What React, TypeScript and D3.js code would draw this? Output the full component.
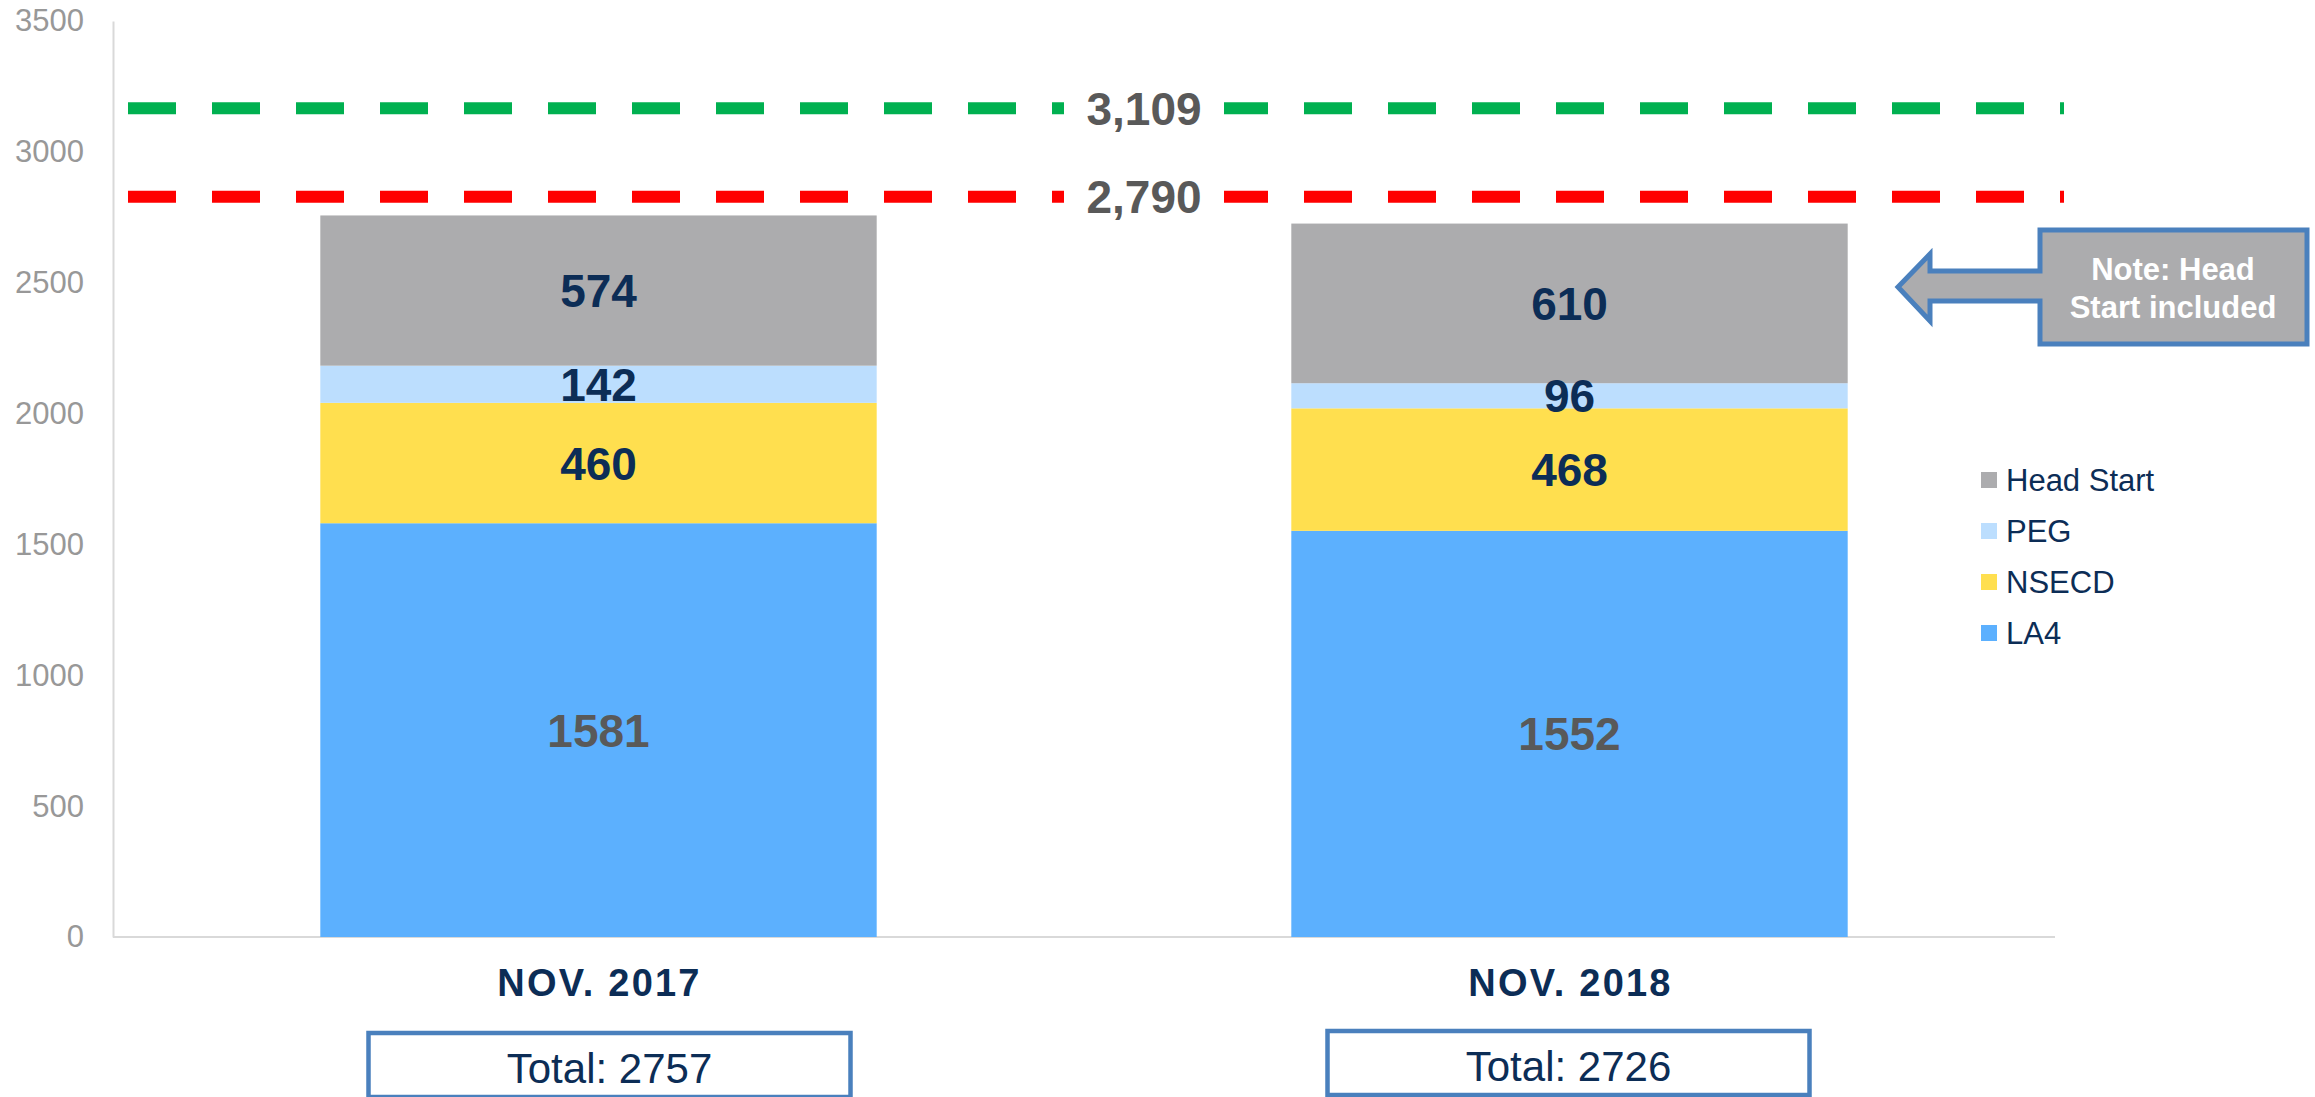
import React, { useEffect, useRef } from 'react';
import * as d3 from 'd3';

// categories and series
const periods = ['NOV. 2017', 'NOV. 2018'];
const programs = ['LA4', 'NSECD', 'PEG', 'Head Start'];
const la4 = [1581, 1552];
const nsecd = [460, 468];
const peg = [142, 96];
const headStart = [574, 610];
const totals = [2757, 2726];

// y axis ticks
const yTicks = [0, 500, 1000, 1500, 2000, 2500, 3000, 3500];

// reference lines: label shown, and level where the line sits in the picture
const targetLabels = ['3,109', '2,790'];
const targetLevels = [3167, 2828];
const targetColors = ['#00b050', '#ff0000'];

const programColors = ['#5cb0fe', '#ffdf4f', '#bcdefe', '#acacae'];

const FONT = "'Liberation Sans', Arial, sans-serif";
const NAVY = '#0c2d56';

const App = () => {
  const svgRef = useRef<SVGSVGElement>(null);

  useEffect(() => {
    const W = 2315;
    const H = 1097;

    d3.select(svgRef.current).selectAll('*').remove();

    const svg = d3
      .select(svgRef.current)
      .attr('width', W)
      .attr('height', H)
      .style('font-family', FONT);

    svg.append('rect').attr('width', W).attr('height', H).attr('fill', '#fff');

    // data table for the stack
    const rows = periods.map((p, i) => ({
      period: p,
      LA4: la4[i],
      NSECD: nsecd[i],
      PEG: peg[i],
      'Head Start': headStart[i],
    }));
    const stacked = d3.stack().keys(programs)(rows as any);

    // scales
    const xScale = d3
      .scaleBand()
      .domain(periods)
      .range([113, 2055])
      .paddingInner(0.427)
      .paddingOuter(0.2135);

    const yScale = d3.scaleLinear().domain([0, 3500]).range([937, 21]);

    const colorScale = d3.scaleOrdinal<string>().domain(programs).range(programColors);

    // y axis
    const yAxis = svg
      .append('g')
      .attr('transform', 'translate(113,0)')
      .call(d3.axisLeft(yScale).tickValues(yTicks).tickSize(0).tickPadding(29).tickFormat(d3.format('d')));
    yAxis.select('.domain').attr('stroke', '#d9d9d9').attr('stroke-width', 2);
    yAxis
      .selectAll('text')
      .style('font-size', '31px')
      .style('font-family', FONT)
      .attr('fill', '#989898');

    // x baseline
    svg
      .append('line')
      .attr('x1', 113)
      .attr('x2', 2055)
      .attr('y1', yScale(0))
      .attr('y2', yScale(0))
      .attr('stroke', '#d9d9d9')
      .attr('stroke-width', 2);

    // bars
    const layers = svg
      .selectAll('.layer')
      .data(stacked)
      .enter()
      .append('g')
      .attr('fill', d => colorScale(d.key));

    layers
      .selectAll('rect')
      .data(d => d)
      .enter()
      .append('rect')
      .attr('x', (d: any) => xScale(d.data.period) as number)
      .attr('y', d => yScale(d[1]))
      .attr('width', xScale.bandwidth())
      .attr('height', d => yScale(d[0]) - yScale(d[1]));

    // segment labels
    stacked.forEach(layer => {
      svg
        .append('g')
        .selectAll('text')
        .data(layer)
        .enter()
        .append('text')
        .attr('x', (d: any) => (xScale(d.data.period) as number) + xScale.bandwidth() / 2)
        .attr('y', d => yScale((d[0] + d[1]) / 2))
        .attr('dy', '0.36em')
        .attr('text-anchor', 'middle')
        .style('font-size', '46px')
        .style('font-weight', 'bold')
        .attr('fill', layer.key === 'LA4' ? '#595959' : NAVY)
        .text(d => d[1] - d[0]);
    });

    // dashed reference lines
    targetLevels.forEach((lvl, i) => {
      const yy = yScale(lvl);
      svg
        .append('line')
        .attr('x1', 128)
        .attr('x2', 2064)
        .attr('y1', yy)
        .attr('y2', yy)
        .attr('stroke', targetColors[i])
        .attr('stroke-width', 12)
        .attr('stroke-dasharray', '48 36');
      svg
        .append('rect')
        .attr('x', 1064)
        .attr('y', yy - 28)
        .attr('width', 160)
        .attr('height', 56)
        .attr('fill', '#fff');
      svg
        .append('text')
        .attr('x', 1144)
        .attr('y', yy)
        .attr('dy', '0.36em')
        .attr('text-anchor', 'middle')
        .style('font-size', '46px')
        .style('font-weight', 'bold')
        .attr('fill', '#595959')
        .text(targetLabels[i]);
    });

    // category labels
    svg
      .selectAll('.xlab')
      .data(periods)
      .enter()
      .append('text')
      .attr('x', d => (xScale(d) as number) + xScale.bandwidth() / 2 + 1)
      .attr('y', 996)
      .attr('text-anchor', 'middle')
      .style('font-size', '38px')
      .style('font-weight', 'bold')
      .style('letter-spacing', '2.2px')
      .attr('fill', NAVY)
      .text(d => d);

    // total boxes (the first one sits a little right of its bar)
    const boxNudge = [11, -1];
    const totalG = svg
      .selectAll('.total')
      .data(periods)
      .enter()
      .append('g')
      .attr('transform', (d, i) => `translate(${(xScale(d) as number) + xScale.bandwidth() / 2 + boxNudge[i]}, ${i === 0 ? 2 : 0})`);

    totalG
      .append('rect')
      .attr('x', -241)
      .attr('y', 1031)
      .attr('width', 482)
      .attr('height', 64)
      .attr('fill', '#fff')
      .attr('stroke', '#4a80bd')
      .attr('stroke-width', 4.5);

    totalG
      .append('text')
      .attr('x', 0)
      .attr('y', 1081)
      .attr('text-anchor', 'middle')
      .style('font-size', '42px')
      .attr('fill', NAVY)
      .text((_, i) => `Total: ${totals[i]}`);

    // legend
    const legend = svg
      .selectAll('.legend')
      .data(programs.slice().reverse())
      .enter()
      .append('g')
      .attr('transform', (_, i) => `translate(1981, ${472 + i * 51})`);

    legend
      .append('rect')
      .attr('width', 16)
      .attr('height', 16)
      .attr('fill', d => colorScale(d));

    legend
      .append('text')
      .attr('x', 25)
      .attr('y', 8)
      .attr('dy', '0.36em')
      .style('font-size', '31px')
      .attr('fill', NAVY)
      .text(d => d);

    // note callout
    const note = d3.path();
    note.moveTo(2040, 230);
    note.lineTo(2307, 230);
    note.lineTo(2307, 344);
    note.lineTo(2040, 344);
    note.lineTo(2040, 301);
    note.lineTo(1930, 301);
    note.lineTo(1930, 321);
    note.lineTo(1898, 287);
    note.lineTo(1930, 254);
    note.lineTo(1930, 271);
    note.lineTo(2040, 271);
    note.closePath();

    svg
      .append('path')
      .attr('d', note.toString())
      .attr('fill', '#acacae')
      .attr('stroke', '#4a80bd')
      .attr('stroke-width', 5)
      .attr('stroke-linejoin', 'miter');

    svg
      .append('text')
      .attr('text-anchor', 'middle')
      .style('font-size', '31px')
      .style('font-weight', 'bold')
      .attr('fill', '#fff')
      .selectAll('tspan')
      .data(['Note: Head', 'Start included'])
      .enter()
      .append('tspan')
      .attr('x', 2173)
      .attr('y', (_, i) => 280 + i * 38)
      .text(d => d);
  }, []);

  return <svg ref={svgRef} style={{ position: 'absolute', left: 0, top: 0, display: 'block' }}></svg>;
};

export default App;
